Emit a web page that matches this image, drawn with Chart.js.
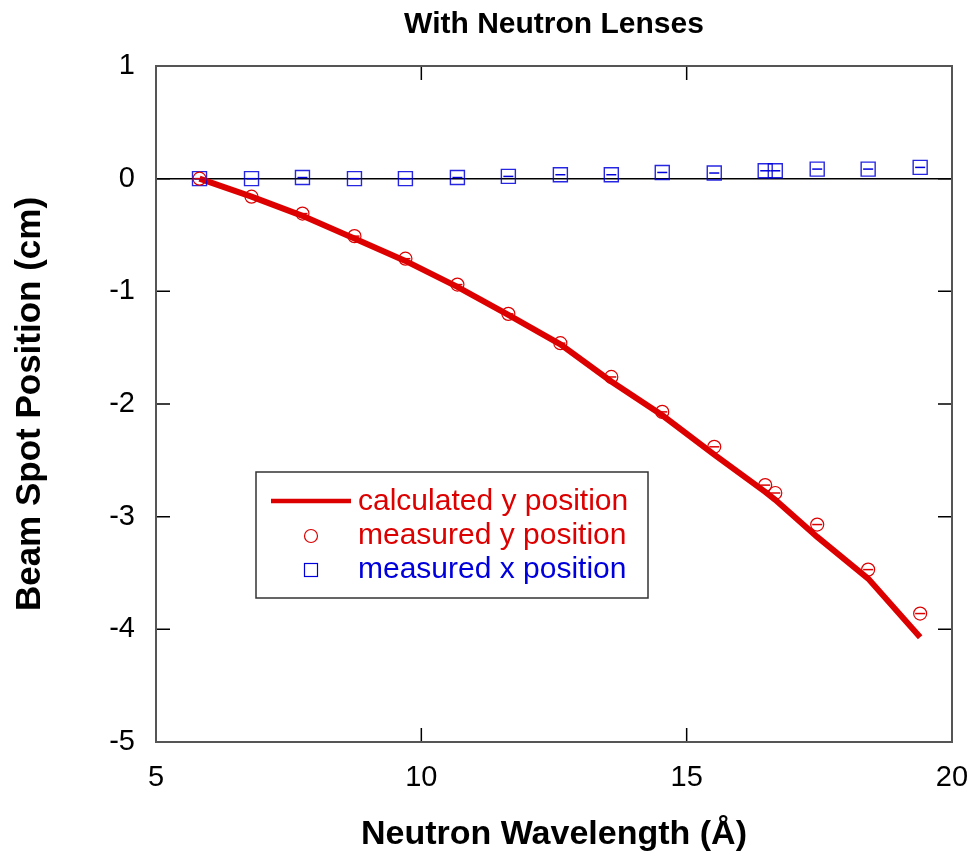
<!DOCTYPE html>
<html>
<head>
<meta charset="utf-8">
<script src="https://cdn.jsdelivr.net/npm/chart.js@4/dist/chart.umd.min.js"></script>
<style>
  html, body { margin: 0; padding: 0; background: #fff; }
  #wrap { width: 971px; height: 860px; }
</style>
</head>
<body>
<div id="wrap"><canvas id="chart" width="971" height="860"></canvas></div>
<script>
// wavelength in Angstrom
var wavelength = [5.82, 6.80, 7.76, 8.74, 9.70, 10.68, 11.64, 12.62, 13.58, 14.54, 15.52, 16.48, 16.67, 17.46, 18.42, 19.40];
var calcY = [0, -0.16, -0.33, -0.53, -0.73, -0.96, -1.21, -1.47, -1.80, -2.10, -2.45, -2.78, -2.85, -3.18, -3.55, -4.07];
var measY = [0, -0.16, -0.31, -0.51, -0.71, -0.94, -1.20, -1.46, -1.76, -2.07, -2.38, -2.72, -2.79, -3.07, -3.47, -3.86];
var measX = [0, 0, 0.01, 0, 0, 0.01, 0.02, 0.035, 0.035, 0.055, 0.05, 0.07, 0.07, 0.085, 0.085, 0.10];
var xTicks = [5, 10, 15, 20];
var yTicks = [1, 0, -1, -2, -3, -4, -5];

var RED = '#dd0000';
var BLUE = '#0000dd';
var FONT = '"Liberation Sans", Arial, Helvetica, sans-serif';

function pts(ys) {
    return wavelength.map(function (x, i) { return { x: x, y: ys[i] }; });
}

// frame + inward tick marks on all four sides, and the boxed legend
var frameAndLegend = {
    id: 'frameAndLegend',
    afterDraw: function (chart) {
        var ctx = chart.ctx;
        var a = chart.chartArea;
        var sx = chart.scales.x, sy = chart.scales.y;
        ctx.save();
        ctx.strokeStyle = '#000';
        ctx.lineWidth = 1.5;
        ctx.beginPath();
        xTicks.forEach(function (v) {
            var px = sx.getPixelForValue(v);
            ctx.moveTo(px, a.bottom); ctx.lineTo(px, a.bottom - 14);
            ctx.moveTo(px, a.top); ctx.lineTo(px, a.top + 14);
        });
        yTicks.forEach(function (v) {
            var py = sy.getPixelForValue(v);
            ctx.moveTo(a.left, py); ctx.lineTo(a.left + 14, py);
            ctx.moveTo(a.right, py); ctx.lineTo(a.right - 14, py);
        });
        ctx.stroke();
        ctx.strokeStyle = '#555';
        ctx.lineWidth = 2;
        ctx.strokeRect(a.left, a.top, a.right - a.left, a.bottom - a.top);

        // legend box
        var bx = 256, by = 472, bw = 392, bh = 126;
        ctx.fillStyle = '#fff';
        ctx.fillRect(bx, by, bw, bh);
        ctx.strokeStyle = '#333';
        ctx.lineWidth = 1.5;
        ctx.strokeRect(bx, by, bw, bh);

        var ds = chart.data.datasets;
        ctx.font = '30px ' + FONT;
        ctx.textBaseline = 'middle';
        ctx.textAlign = 'left';

        // calculated line
        ctx.strokeStyle = RED;
        ctx.lineWidth = 4.5;
        ctx.beginPath();
        ctx.moveTo(271, 501); ctx.lineTo(351, 501);
        ctx.stroke();
        ctx.fillStyle = RED;
        ctx.fillText(ds[0].label, 358, 502);

        // circle
        ctx.lineWidth = 1.2;
        ctx.beginPath();
        ctx.arc(311, 536, 6.5, 0, Math.PI * 2);
        ctx.stroke();
        ctx.fillText(ds[1].label, 358, 536);

        // square
        ctx.strokeStyle = BLUE;
        ctx.strokeRect(304.5, 563.5, 13, 13);
        ctx.fillStyle = BLUE;
        ctx.fillText(ds[2].label, 358, 570);
        ctx.restore();
    }
};

new Chart(document.getElementById('chart'), {
    type: 'scatter',
    data: {
        datasets: [
            {
                label: 'calculated y position',
                data: pts(calcY),
                showLine: true,
                borderColor: RED,
                borderWidth: 6,
                pointRadius: 0,
                tension: 0,
                order: 4
            },
            {
                label: 'measured y position',
                data: pts(measY),
                pointStyle: 'circle',
                pointRadius: 6.5,
                borderColor: RED,
                backgroundColor: 'rgba(0,0,0,0)',
                borderWidth: 1.2,
                order: 1
            },
            {
                label: 'measured x position',
                data: pts(measX),
                pointStyle: 'rect',
                pointRadius: 9.9,
                borderColor: 'rgba(0,0,221,0.85)',
                backgroundColor: 'rgba(0,0,0,0)',
                borderWidth: 1.4,
                order: 3
            },
            {
                label: 'y error',
                data: pts(measY),
                pointStyle: 'line',
                pointRadius: 5,
                borderColor: RED,
                borderWidth: 1.5,
                order: 0
            },
            {
                label: 'x error',
                data: pts(measX),
                pointStyle: 'line',
                pointRadius: 5,
                borderColor: BLUE,
                borderWidth: 1.5,
                order: 2
            }
        ]
    },
    options: {
        responsive: false,
        animation: false,
        layout: { padding: { top: 0, left: 0, right: 19, bottom: 0 } },
        plugins: {
            legend: { display: false },
            tooltip: { enabled: false },
            title: {
                display: true,
                text: 'With Neutron Lenses',
                fullSize: false,
                color: '#000',
                font: { family: FONT, size: 30, weight: 'bold', lineHeight: 1.2 },
                padding: { top: 7, bottom: 23 }
            }
        },
        scales: {
            x: {
                type: 'linear',
                min: 5,
                max: 20,
                afterBuildTicks: function (scale) {
                    scale.ticks = xTicks.map(function (v) { return { value: v }; });
                },
                afterFit: function (scale) {
                    scale.height = 118;
                    scale.paddingLeft = 0;
                    scale.paddingRight = 0;
                },
                ticks: {
                    color: '#000',
                    padding: 19,
                    maxRotation: 0,
                    font: { family: FONT, size: 29 }
                },
                grid: { drawOnChartArea: false, drawTicks: false, color: 'rgba(0,0,0,0)' },
                border: { display: false },
                title: {
                    display: true,
                    text: 'Neutron Wavelength (Å)',
                    color: '#000',
                    font: { family: FONT, size: 34, weight: 'bold', lineHeight: 1.2 },
                    padding: { top: 0, bottom: 5 }
                }
            },
            y: {
                type: 'linear',
                min: -5,
                max: 1,
                afterBuildTicks: function (scale) {
                    scale.ticks = yTicks.map(function (v) { return { value: v }; });
                },
                afterFit: function (scale) {
                    scale.width = 156;
                    scale.paddingTop = 0;
                    scale.paddingBottom = 0;
                },
                ticks: {
                    color: '#000',
                    padding: 21,
                    font: { family: FONT, size: 29 }
                },
                grid: {
                    drawTicks: false,
                    lineWidth: 1.5,
                    color: function (c) { return c.tick && c.tick.value === 0 ? '#000' : 'rgba(0,0,0,0)'; }
                },
                border: { display: false },
                title: {
                    display: true,
                    text: 'Beam Spot Position (cm)',
                    color: '#000',
                    font: { family: FONT, size: 35, weight: 'bold', lineHeight: 1.2 },
                    padding: { top: 9, bottom: 0 }
                }
            }
        }
    },
    plugins: [frameAndLegend]
});
</script>
</body>
</html>
